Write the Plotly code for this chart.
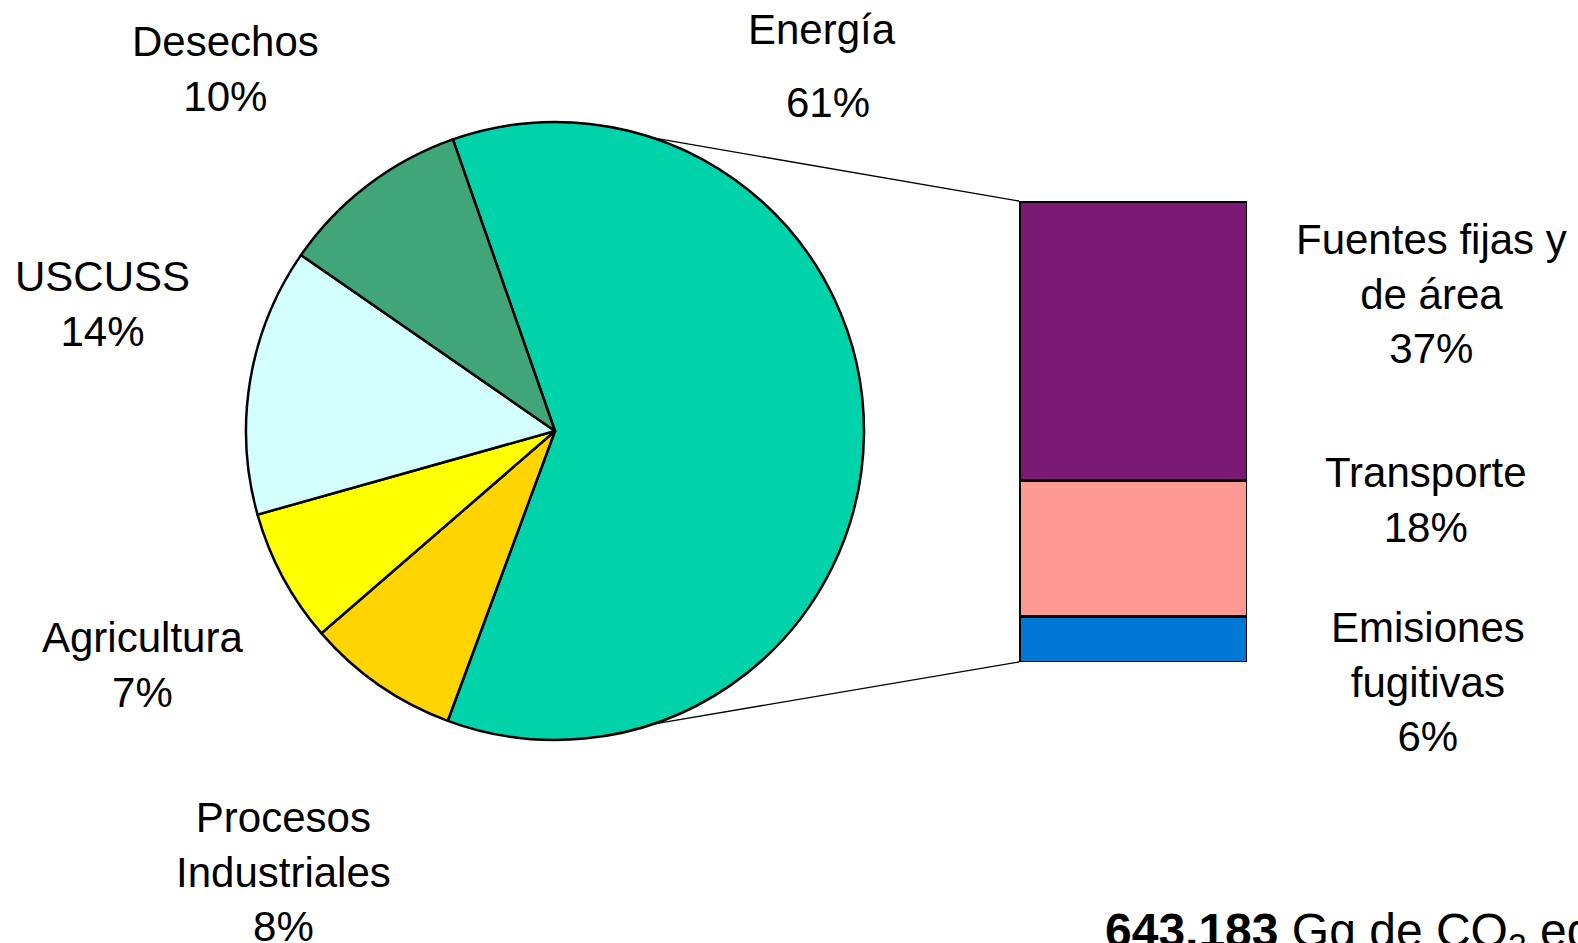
import math
import plotly.graph_objects as go

# ---------------- data ----------------
pie_labels = ["Energía", "Procesos<br>Industriales", "Agricultura", "USCUSS", "Desechos"]
pie_values = [61, 8, 7, 14, 10]
pie_colors = ["#00D2AA", "#FFD400", "#FFFF00", "#D4FFFF", "#40A67A"]

bar_labels = ["Emisiones<br>fugitivas", "Transporte", "Fuentes fijas y<br>de área"]
bar_values = [6, 18, 37]
bar_colors = ["#0079D6", "#FF9994", "#7A1A75"]

total_text = "<b>643,183</b> Gg de CO<sub>2</sub> eq."

# ---------------- layout constants (pixels) ----------------
W, H = 1578, 943
FONT = "Liberation Sans, Arial, sans-serif"
FS = 42
pie_cx, pie_cy, pie_r = 555, 431, 309
bar_x0, bar_x1, bar_y0, bar_y1 = 1019, 1247, 201, 662
pie_rotation = -19.3
link_angle = 18.5  # degrees from vertical where the connector lines leave the pie


def px(x, y):
    return x / W, 1 - y / H


def pct(v):
    return f"{round(v)}%"


fig = go.Figure()

fig.add_trace(go.Pie(
    labels=pie_labels,
    values=pie_values,
    sort=False,
    direction="clockwise",
    rotation=pie_rotation,
    marker=dict(colors=pie_colors, line=dict(color="black", width=2.5)),
    textinfo="none",
    hoverinfo="none",
    showlegend=False,
    domain=dict(x=[(pie_cx - pie_r) / W, (pie_cx + pie_r) / W],
                y=[1 - (pie_cy + pie_r) / H, 1 - (pie_cy - pie_r) / H]),
))

for lab, val, col in zip(bar_labels, bar_values, bar_colors):
    fig.add_trace(go.Bar(
        x=[0], y=[val], width=1, name=lab,
        marker=dict(color=col, line=dict(color="black", width=3)),
        hoverinfo="none", showlegend=False,
    ))

bar_total = sum(bar_values)

# connector lines from pie to bar
a = math.radians(link_angle)
top_pt = (pie_cx + pie_r * math.sin(a), pie_cy - pie_r * math.cos(a))
bot_pt = (pie_cx + pie_r * math.sin(a), pie_cy + pie_r * math.cos(a))
shapes = []
for (sx, sy), (ex, ey) in [(top_pt, (bar_x0, bar_y0)), (bot_pt, (bar_x0, bar_y1))]:
    x0, y0 = px(sx, sy)
    x1, y1 = px(ex, ey)
    shapes.append(dict(type="line", xref="paper", yref="paper",
                       x0=x0, y0=y0, x1=x1, y1=y1,
                       line=dict(color="black", width=1.3)))

# label positions (pixels): centre of the text block
pie_label_pos = {
    "Procesos<br>Industriales": (283, 872),
    "Agricultura": (142, 665),
    "USCUSS": (102, 304),
    "Desechos": (225, 69.5),
}
bar_label_pos = {
    "Emisiones<br>fugitivas": (1428, 682),
    "Transporte": (1426, 500),
    "Fuentes fijas y<br>de área": (1431, 294),
}

annotations = []


def add_ann(text, x, y, xanchor="center", yanchor="middle", size=FS):
    xp, yp = px(x, y)
    annotations.append(dict(text=text, x=xp, y=yp, xref="paper", yref="paper",
                            xanchor=xanchor, yanchor=yanchor, showarrow=False,
                            align="center", font=dict(family=FONT, size=size, color="black")))


# Energía: name and percentage separately spaced
add_ann(pie_labels[0], 822, 29)
add_ann(pct(pie_values[0]), 828.5, 103)
for lab, val in zip(pie_labels[1:], pie_values[1:]):
    x, y = pie_label_pos[lab]
    add_ann(f"{lab}<br>{pct(val)}", x, y)
for lab, val in zip(bar_labels, bar_values):
    x, y = bar_label_pos[lab]
    add_ann(f"{lab}<br>{pct(val)}", x, y)

add_ann(total_text, 1103, 934, xanchor="left", size=48)

fig.update_layout(
    width=W, height=H,
    margin=dict(l=0, r=0, t=0, b=0),
    paper_bgcolor="white", plot_bgcolor="white",
    barmode="stack",
    xaxis=dict(domain=[bar_x0 / W, bar_x1 / W], range=[-0.5, 0.5], visible=False, fixedrange=True),
    yaxis=dict(domain=[1 - bar_y1 / H, 1 - bar_y0 / H], range=[0, bar_total], visible=False, fixedrange=True),
    shapes=shapes,
    annotations=annotations,
    font=dict(family=FONT, size=FS),
)

fig.write_html("out.html",
               config={"displayModeBar": False, "staticPlot": True},
               post_script="document.body.style.margin='0';document.body.style.overflow='hidden';")
